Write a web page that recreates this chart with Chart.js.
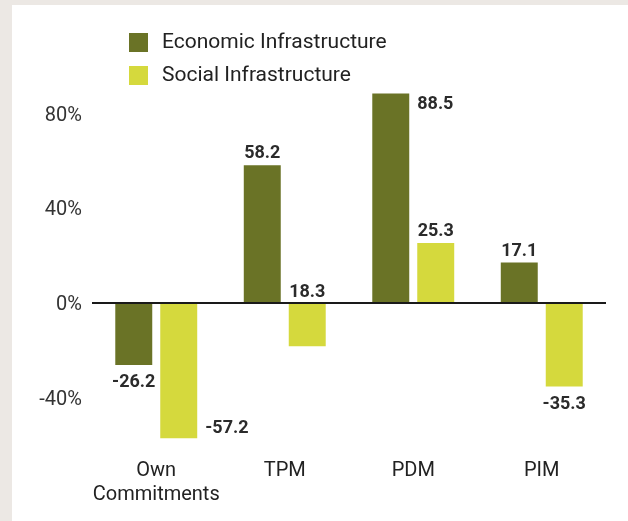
<!DOCTYPE html>
<html>
<head>
<meta charset="utf-8">
<script src="https://cdn.jsdelivr.net/npm/chart.js@4/dist/chart.umd.min.js"></script>
<style>
  html, body { margin: 0; padding: 0; background: #ece8e4; }
  #wrap { position: absolute; left: 12px; top: 5px; width: 616px; height: 516px; background: #fff; }
</style>
</head>
<body>
<div id="wrap"><canvas id="barChart"></canvas></div>
<script>
var categories = [['Own', 'Commitments'], 'TPM', 'PDM', 'PIM'];
var economic = [-26.2, 58.2, 88.5, 17.1];
var social = [-57.2, -18.3, 25.3, -35.3];
// value labels as printed on the chart
var economicLabels = ['-26.2', '58.2', '88.5', '17.1'];
var socialLabels = ['-57.2', '18.3', '25.3', '-35.3'];
var yTicks = [-40, 0, 40, 80];

var FONT = "Roboto, 'Liberation Sans', sans-serif";

// legend stacked in two rows at the top left
var stackedLegend = {
  id: 'stackedLegend',
  afterDraw: function(chart) {
    var ctx = chart.ctx;
    ctx.save();
    ctx.font = '21px ' + FONT;
    ctx.textBaseline = 'middle';
    ctx.textAlign = 'left';
    chart.data.datasets.forEach(function(ds, i) {
      var y = 28 + i * 33;
      ctx.fillStyle = ds.backgroundColor;
      ctx.fillRect(117, y, 19, 19);
      ctx.fillStyle = '#222';
      ctx.fillText(ds.label, 150, y + 10);
    });
    ctx.restore();
  }
};

// value labels above / below the bars, beside them when no room
var valueLabels = {
  id: 'valueLabels',
  afterDatasetsDraw: function(chart) {
    var ctx = chart.ctx;
    var area = chart.chartArea;
    ctx.save();
    ctx.font = 'bold 18px ' + FONT;
    ctx.fillStyle = '#2b2b2b';
    ctx.textBaseline = 'alphabetic';
    chart.data.datasets.forEach(function(ds, di) {
      var meta = chart.getDatasetMeta(di);
      meta.data.forEach(function(bar, i) {
        var txt = ds.valueLabels[i];
        var neg = txt.charAt(0) === '-';
        var bottom = Math.max(bar.y, bar.base);
        var top = Math.min(bar.y, bar.base);
        var x = bar.x, y, align = 'center';
        if (neg) {
          y = bottom + 22;
          if (y > area.bottom) { x = bar.x + bar.width / 2 + 8; y = bottom - 5; align = 'left'; }
        } else {
          y = top - 7;
          if (y - 14 < area.top) { x = bar.x + bar.width / 2 + 8; y = top + 15; align = 'left'; }
        }
        ctx.textAlign = align;
        ctx.fillText(txt, x, y);
      });
    });
    ctx.restore();
  }
};

var ctx = document.getElementById('barChart');
var chart = new Chart(ctx, {
  type: 'bar',
  data: {
    labels: categories,
    datasets: [
      { label: 'Economic Infrastructure', data: economic, valueLabels: economicLabels,
        backgroundColor: '#6a7326' },
      { label: 'Social Infrastructure', data: social, valueLabels: socialLabels,
        backgroundColor: '#d5d93d' }
    ]
  },
  options: {
    responsive: true,
    maintainAspectRatio: false,
    animation: false,
    categoryPercentage: 0.7,
    barPercentage: 0.822,
    layout: { padding: { left: 20, right: 22, top: 85, bottom: 16 } },
    plugins: { legend: { display: false }, tooltip: { enabled: false } },
    scales: {
      x: {
        grid: { display: false },
        border: { display: false },
        ticks: { color: '#222', font: { family: FONT, size: 20 }, padding: 6, maxRotation: 0, autoSkip: false },
        afterFit: function(s) { s.height = 60; }
      },
      y: {
        min: -60,
        max: 90,
        border: { display: false },
        grid: {
          drawTicks: false,
          lineWidth: 2,
          color: function(c) { return c.tick && c.tick.value === 0 ? '#1a1a1a' : 'rgba(0,0,0,0)'; }
        },
        ticks: {
          color: '#333', font: { family: FONT, size: 20 }, padding: 10, labelOffset: 2,
          callback: function(v) { return v + '%'; }
        },
        afterBuildTicks: function(s) {
          s.ticks = yTicks.map(function(v) { return { value: v }; });
        },
        afterFit: function(s) { s.width = 60; }
      }
    }
  },
  plugins: [stackedLegend, valueLabels]
});
</script>
</body>
</html>
